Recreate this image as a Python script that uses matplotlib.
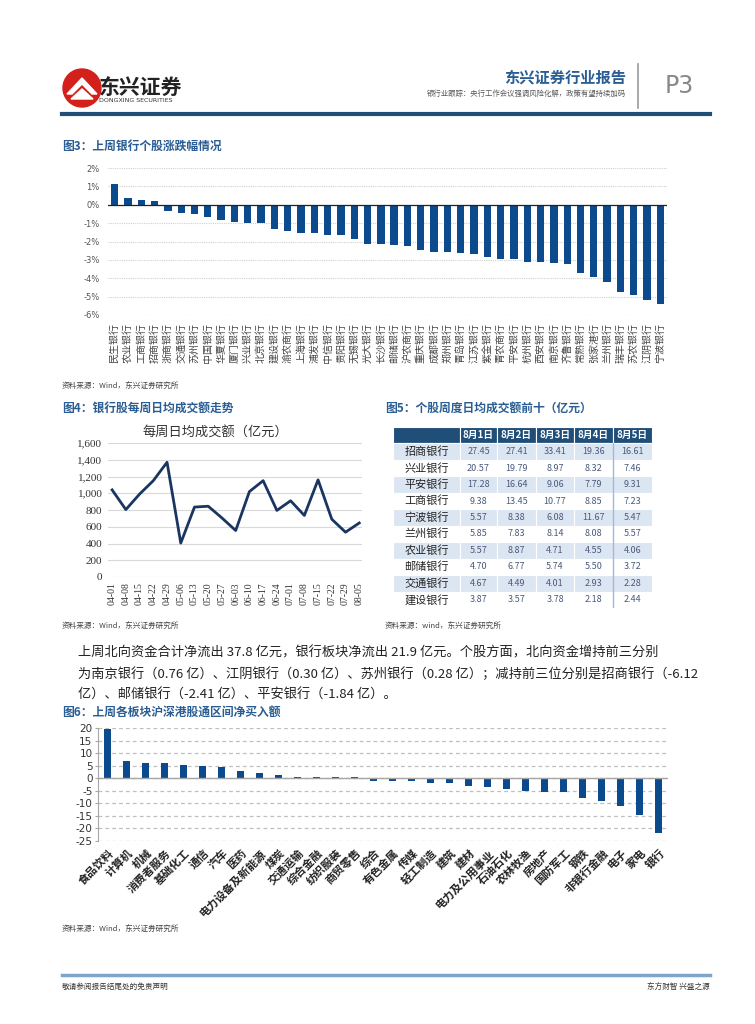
import numpy as np
import matplotlib
matplotlib.use("Agg")
import matplotlib.pyplot as plt
from matplotlib.lines import Line2D
from matplotlib.patches import Circle, Polygon

plt.rcParams['font.family'] = ['Noto Sans CJK SC', 'DejaVu Sans']
plt.rcParams['axes.unicode_minus'] = False

# ---- 图3 数据 ----
bank_names = ['民生银行', '农业银行', '工商银行', '招商银行', '浙商银行', '交通银行', '苏州银行',
              '中国银行', '华夏银行', '厦门银行', '兴业银行', '北京银行', '建设银行', '渝农商行',
              '上海银行', '浦发银行', '中信银行', '贵阳银行', '无锡银行', '光大银行', '长沙银行',
              '邮储银行', '沪农商行', '重庆银行', '成都银行', '郑州银行', '青岛银行', '江苏银行',
              '紫金银行', '青农商行', '平安银行', '杭州银行', '西安银行', '南京银行', '齐鲁银行',
              '常熟银行', '张家港行', '兰州银行', '瑞丰银行', '苏农银行', '江阴银行', '宁波银行']
bank_chg = [1.12, 0.35, 0.24, 0.18, -0.33, -0.47, -0.51, -0.65, -0.82, -0.93, -0.98, -0.98,
            -1.31, -1.45, -1.56, -1.56, -1.65, -1.65, -1.87, -2.13, -2.16, -2.18, -2.27, -2.47,
            -2.55, -2.58, -2.64, -2.69, -2.84, -2.95, -2.95, -3.09, -3.09, -3.15, -3.20, -3.69,
            -3.93, -4.18, -4.73, -4.91, -5.16, -5.38]
pct_ticks = [2, 1, 0, -1, -2, -3, -4, -5, -6]

# ---- 图4 数据 ----
week_dates = ['04-01', '04-08', '04-15', '04-22', '04-29', '05-06', '05-13', '05-20', '05-27',
              '06-03', '06-10', '06-17', '06-24', '07-01', '07-08', '07-15', '07-22', '07-29', '08-05']
week_amount = [1040, 805, 990, 1150, 1370, 405, 835, 845, 705, 555, 1020, 1150, 795, 910,
               735, 1160, 690, 535, 645]

# ---- 图5 数据 ----
tbl_cols = ['8月1日', '8月2日', '8月3日', '8月4日', '8月5日']
tbl_rows = ['招商银行', '兴业银行', '平安银行', '工商银行', '宁波银行',
            '兰州银行', '农业银行', '邮储银行', '交通银行', '建设银行']
tbl_vals = [[27.45, 27.41, 33.41, 19.36, 16.61],
            [20.57, 19.79, 8.97, 8.32, 7.46],
            [17.28, 16.64, 9.06, 7.79, 9.31],
            [9.38, 13.45, 10.77, 8.85, 7.23],
            [5.57, 8.38, 6.08, 11.67, 5.47],
            [5.85, 7.83, 8.14, 8.08, 5.57],
            [5.57, 8.87, 4.71, 4.55, 4.06],
            [4.70, 6.77, 5.74, 5.50, 3.72],
            [4.67, 4.49, 4.01, 2.93, 2.28],
            [3.87, 3.57, 3.78, 2.18, 2.44]]

# ---- 图6 数据 ----
sectors = ['食品饮料', '计算机', '机械', '消费者服务', '基础化工', '通信', '汽车', '医药',
           '电力设备及新能源', '煤炭', '交通运输', '综合金融', '纺织服装', '商贸零售', '综合',
           '有色金属', '传媒', '轻工制造', '建筑', '建材', '电力及公用事业', '石油石化',
           '农林牧渔', '房地产', '国防军工', '钢铁', '非银行金融', '电子', '家电', '银行']
sector_flow = [19.6, 6.7, 6.0, 6.0, 5.2, 4.9, 4.4, 2.9, 2.1, 1.3, 0.4, 0.3, 0.3, 0.3, -1.1,
               -1.3, -1.3, -1.9, -1.9, -2.9, -3.6, -4.1, -5.1, -5.5, -5.6, -7.9, -8.9,
               -11.2, -14.8, -21.9]

W, H = 755, 1024
BAR = '#0B4A8C'
TITLE = '#2A5D93'
NAVY = '#1B3563'

fig = plt.figure(figsize=(W / 100, H / 100), dpi=100)


def box(l, t, r, b):
    return fig.add_axes([l / W, 1 - b / H, (r - l) / W, (b - t) / H])


def txt(x, y, s, **kw):
    fig.text(x / W, 1 - y / H, s, **kw)


def hline(x0, x1, y, **kw):
    fig.add_artist(Line2D([x0 / W, x1 / W], [1 - y / H, 1 - y / H], transform=fig.transFigure, **kw))


# ---- 页眉 ----
logo = box(62, 68, 102, 108)
logo.set_xlim(-1, 1)
logo.set_ylim(-1, 1)
logo.set_aspect('equal')
logo.axis('off')
logo.add_patch(Circle((0, 0), 0.95, color='#D3201B'))
logo.add_patch(Polygon([(-0.75, -0.3), (0, 0.5), (0.75, -0.3), (0.5, -0.3), (0, 0.2), (-0.5, -0.3)],
                       color='white'))
logo.add_patch(Polygon([(-0.55, -0.55), (0, -0.05), (0.55, -0.55)], color='white'))
txt(99, 87, '东兴证券', fontsize=15, fontweight='bold', color='#222222', va='center')
txt(99, 101, 'DONGXING SECURITIES', fontsize=4.5, color='#333333', va='center', family='DejaVu Sans')
txt(626, 78, '东兴证券行业报告', fontsize=11, fontweight='bold', color=TITLE, ha='right', va='center')
txt(626, 94, '银行业跟踪：央行工作会议强调风险化解，政策有望持续加码', fontsize=5.3, color='#555555',
    ha='right', va='center')
fig.add_artist(Line2D([638 / W, 638 / W], [1 - 64 / H, 1 - 108 / H], transform=fig.transFigure,
                      color='#999999', lw=1.2))
txt(665, 86, 'P3', fontsize=17, color='#888888', va='center', family='DejaVu Sans')
hline(62, 710, 114, color='#1F4E79', lw=3)

# ---- 图3 ----
txt(62, 146, '图3：上周银行个股涨跌幅情况', fontsize=8.5, fontweight='bold', color=TITLE, va='center')
ax3 = box(108, 168, 667, 315)
x3 = np.arange(1, len(bank_chg) + 1)
ax3.bar(x3, bank_chg, width=0.55, color=BAR, zorder=3)
ax3.set_xlim(0.5, len(bank_chg) + 0.5)
ax3.set_ylim(-6, 2)
ax3.set_yticks(pct_ticks)
ax3.set_yticklabels([f'{v}%' for v in pct_ticks], fontsize=6, color='#555555', family='DejaVu Sans')
ax3.yaxis.grid(True, color='#D0D0D0', lw=0.8, ls=(0, (1, 1)))
ax3.axhline(0, color='#222222', lw=0.9, zorder=4)
ax3.set_xticks(x3)
ax3.set_xticklabels(bank_names, rotation=90, fontsize=7.2, color='#444444')
ax3.tick_params(length=0, pad=6)
for s in ax3.spines.values():
    s.set_visible(False)
txt(62, 386, '资料来源：Wind，东兴证券研究所', fontsize=5.5, color='#444444', va='center')

# ---- 图4 ----
txt(62, 408, '图4：银行股每周日均成交额走势', fontsize=8.5, fontweight='bold', color=TITLE, va='center')
txt(215, 433, '每周日均成交额（亿元）', fontsize=9.5, color='#333333', ha='center', va='center')
ax4 = box(108, 443, 362, 577)
x4 = np.arange(len(week_amount))
ax4.plot(x4, week_amount, color=NAVY, lw=2, zorder=3)
ax4.set_xlim(-0.3, len(week_amount) - 0.8)
ax4.set_ylim(0, 1600)
ax4.set_yticks(range(0, 1601, 200))
ax4.set_yticklabels([f'{v:,}' for v in range(0, 1601, 200)], fontsize=8, color='#333333',
                    family='Liberation Serif')
ax4.yaxis.grid(True, color='#D9D9D9', lw=0.8)
ax4.set_xticks(x4)
ax4.set_xticklabels(week_dates, rotation=90, fontsize=7, color='#333333', family='Liberation Serif')
ax4.tick_params(length=0, pad=4)
for s in ax4.spines.values():
    s.set_visible(False)
txt(62, 626, '资料来源：Wind，东兴证券研究所', fontsize=5.5, color='#444444', va='center')

# ---- 图5 ----
txt(385, 408, '图5：个股周度日均成交额前十（亿元）', fontsize=8.5, fontweight='bold', color=TITLE,
    va='center')
ax5 = box(393, 427, 652, 608)
ax5.axis('off')
cell_text = [[r] + [f'{v:.2f}' for v in vals] for r, vals in zip(tbl_rows, tbl_vals)]
tb = ax5.table(cellText=cell_text, colLabels=[''] + tbl_cols, bbox=[0, 0, 1, 1],
               colWidths=[67, 37, 39, 38, 39, 39], cellLoc='center')
tb.auto_set_font_size(False)
for (r, c), cell in tb.get_celld().items():
    cell.set_edgecolor('white')
    cell.set_linewidth(0.8)
    if r == 0:
        cell.set_facecolor('#1F4E79')
        cell.get_text().set_color('white')
        cell.get_text().set_fontweight('bold')
        cell.get_text().set_fontsize(7)
    else:
        cell.set_facecolor('#DCE6F2' if r % 2 == 1 else 'white')
        cell.get_text().set_fontsize(8 if c == 0 else 6.5)
        cell.get_text().set_color('#222222' if c == 0 else '#4A5A7A')
ax5.axvline((613 - 393) / 259, 0, 165 / 181, color='#9DB9DE', lw=1)
txt(385, 626, '资料来源：wind，东兴证券研究所', fontsize=5.5, color='#444444', va='center')

# ---- 正文 ----
para = ['上周北向资金合计净流出 37.8 亿元，银行板块净流出 21.9 亿元。个股方面，北向资金增持前三分别',
        '为南京银行（0.76 亿）、江阴银行（0.30 亿）、苏州银行（0.28 亿）；减持前三位分别是招商银行（-6.12',
        '亿）、邮储银行（-2.41 亿）、平安银行（-1.84 亿）。']
for i, line in enumerate(para):
    txt(78, 653 + i * 21, line, fontsize=9.5, color='#222222', va='center')

# ---- 图6 ----
txt(62, 712, '图6：上周各板块沪深港股通区间净买入额', fontsize=8.5, fontweight='bold', color=TITLE,
    va='center')
ax6 = box(98, 728, 668, 841)
x6 = np.arange(len(sector_flow))
ax6.bar(x6, sector_flow, width=0.42, color=BAR, zorder=3)
ax6.set_xlim(-0.5, len(sector_flow) - 0.5)
ax6.set_ylim(-25, 20)
ax6.set_yticks(range(-25, 21, 5))
ax6.set_yticklabels([str(v) for v in range(-25, 21, 5)], fontsize=7.5, color='#333333',
                    family='DejaVu Sans')
ax6.yaxis.grid(True, color='#BFBFBF', lw=0.9, ls=(0, (3, 2.5)))
ax6.axhline(0, color='#A6A6A6', lw=1, zorder=4)
ax6.set_xticks(x6)
ax6.set_xticklabels(sectors, rotation=45, ha='right', rotation_mode='anchor', fontsize=8,
                    fontweight='bold', color='#222222')
ax6.tick_params(axis='x', length=0, pad=4)
ax6.tick_params(axis='y', length=2, color='#A6A6A6', pad=2)
for k in ['top', 'right', 'bottom']:
    ax6.spines[k].set_visible(False)
ax6.spines['left'].set_color('#A6A6A6')
txt(62, 929, '资料来源：Wind，东兴证券研究所', fontsize=5.5, color='#444444', va='center')

# ---- 页脚 ----
hline(62, 710, 975, color='#7FA5CC', lw=2.5)
txt(62, 987, '敬请参阅报告结尾处的免责声明', fontsize=5.5, color='#333333', va='center')
txt(710, 987, '东方财智 兴盛之源', fontsize=5.5, color='#333333', va='center', ha='right')

fig.savefig('out.png', dpi=100)
